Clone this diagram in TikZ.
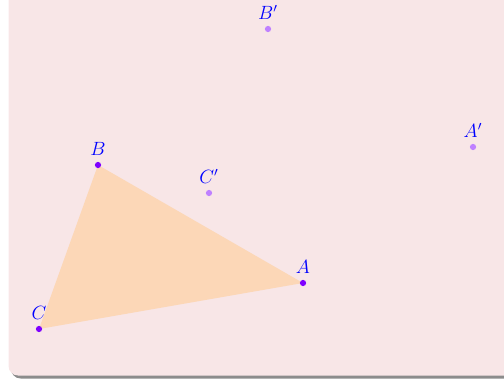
\documentclass[tikz,border=0pt]{standalone}
\usepackage{amsmath}
\usepackage{amssymb}
\usepackage{tikz}
\usepackage{xcolor}
\definecolor{bgpink}{RGB}{248,230,231}
\definecolor{tripeach}{RGB}{252,215,183}
\definecolor{ptviolet}{RGB}{127,0,255}
\definecolor{ptlight}{RGB}{191,128,255}

\begin{document}
\begin{tikzpicture}[x=0.022cm,y=0.022cm,
  pt/.style={circle,fill=ptviolet,inner sep=0pt,minimum size=3.9pt},
  ptimg/.style={pt,fill=ptlight},
  lab/.style={text=blue,inner sep=1.5pt,font=\large,label distance=2.2pt}]
\useasboundingbox (0,0) rectangle (504,379);
\begin{scope}
\clip (0,0) rectangle (504,379);
\fill[gray!90,rounded corners=6pt] (11,0.5) rectangle (540,420);
\fill[bgpink,rounded corners=6pt] (8.5,3.5) rectangle (530,420);
\end{scope}
% triangle and its image
\coordinate (A) at (303,96);
\coordinate (B) at (98,214);
\coordinate (C) at (39,50);
\coordinate (A') at (473,232);
\coordinate (B') at (268,350);
\coordinate (C') at (209,186);
\fill[tripeach] (A)--(B)--(C)--cycle;
\node[pt,label={[lab]above:$A$}] (pa) at (A) {};
\node[pt,label={[lab]above:$B$}] (pb) at (B) {};
\node[pt,label={[lab]above:$C$}] (pc) at (C) {};
\node[ptimg,label={[lab]above:$A'$}] (pa') at (A') {};
\node[ptimg,label={[lab]above:$B'$}] (pb') at (B') {};
\node[ptimg,label={[lab]above:$C'$}] (pc') at (C') {};
\end{tikzpicture}
\end{document}
